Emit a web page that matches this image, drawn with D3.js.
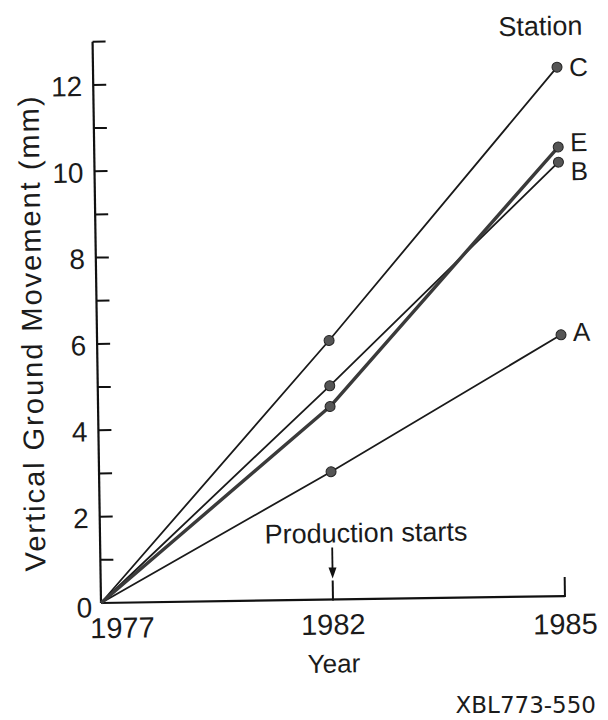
<!DOCTYPE html>
<html>
<head>
<meta charset="utf-8">
<script src="https://cdnjs.cloudflare.com/ajax/libs/d3/7.8.5/d3.min.js"></script>
<style>
  body { margin: 0; background: #fff; }
  text { font-family: "Liberation Sans", Arial, sans-serif; fill: #1b1b1b; }
</style>
</head>
<body>
<svg width="608" height="720"></svg>
<script>
// values
const years = ["1977", "1982", "1985"];
const stations = ["A", "B", "C", "E"];
const movementA = [0, 2.96, 6.05];
const movementB = [0, 4.95, 10.05];
const movementC = [0, 6.0, 12.25];
const movementE = [0, 4.47, 10.4];
const yTickLabels = [0, 2, 4, 6, 8, 10, 12];

const series = [
  {name: "A", values: movementA},
  {name: "B", values: movementB},
  {name: "C", values: movementC},
  {name: "E", values: movementE}
];

// label nudges around the last point of each station
const labelShift = {A: -3, B: 9, C: 0, E: -5};

const x0 = 101, y0 = 603;

const svg = d3.select("svg");

// the scan is turned a little, so the whole drawing is too
const g = svg.append("g")
  .attr("transform", `rotate(-0.86, ${x0}, ${y0})`);

const x = d3.scalePoint().domain(years).range([x0, 565]);
const y = d3.scaleLinear().domain([0, 13]).range([y0, y0 - 13 * 43.18]);

// y axis
g.append("line")
  .attr("x1", x0).attr("x2", x0)
  .attr("y1", y(0)).attr("y2", y(13))
  .attr("stroke", "#111").attr("stroke-width", 2.2);

g.selectAll(".ytick")
  .data(d3.range(1, 14))
  .join("line")
  .attr("class", "ytick")
  .attr("x1", x0).attr("x2", x0 + 13)
  .attr("y1", d => y(d)).attr("y2", d => y(d))
  .attr("stroke", "#111").attr("stroke-width", 2);

g.selectAll(".ylab")
  .data(yTickLabels)
  .join("text")
  .attr("class", "ylab")
  .attr("x", d => d === 0 ? x0 - 9 : x0 - 11)
  .attr("y", d => y(d) + (d === 0 ? 4 : 1))
  .attr("dy", "0.36em")
  .attr("text-anchor", "end")
  .style("font-size", "28px")
  .text(d => d);

// x axis
g.append("line")
  .attr("x1", x0).attr("x2", x(years[2]))
  .attr("y1", y0).attr("y2", y0)
  .attr("stroke", "#111").attr("stroke-width", 2.2);

g.selectAll(".xtick")
  .data(years.slice(1))
  .join("line")
  .attr("class", "xtick")
  .attr("x1", d => x(d)).attr("x2", d => x(d))
  .attr("y1", y0 + 1).attr("y2", y0 - 19)
  .attr("stroke", "#111").attr("stroke-width", 2);

g.selectAll(".xlab")
  .data(years)
  .join("text")
  .attr("class", "xlab")
  .attr("x", (d, i) => i === 0 ? x(d) + 21 : x(d))
  .attr("y", (d, i) => [638, 638, 641][i])
  .attr("text-anchor", "middle")
  .style("font-size", "29px")
  .text(d => d);

g.append("text")
  .attr("x", x(years[1]))
  .attr("y", 676)
  .attr("text-anchor", "middle")
  .style("font-size", "26px")
  .text("Year");

g.append("text")
  .attr("transform", "translate(46,333) rotate(-90)")
  .attr("text-anchor", "middle")
  .attr("textLength", 475)
  .attr("lengthAdjust", "spacing")
  .style("font-size", "29px")
  .text("Vertical Ground Movement (mm)");

// production marker
const xp = x(years[1]);
g.append("line")
  .attr("x1", xp).attr("x2", xp)
  .attr("y1", 551).attr("y2", 574)
  .attr("stroke", "#111").attr("stroke-width", 1.8);
g.append("path")
  .attr("d", `M${xp - 4},${571} L${xp + 4},${571} L${xp},${582} Z`)
  .attr("fill", "#111");
g.append("text")
  .attr("x", 367)
  .attr("y", 546)
  .attr("text-anchor", "middle")
  .style("font-size", "27px")
  .text("Production starts");

// station lines
const line = d3.line()
  .x((d, i) => x(years[i]))
  .y(d => y(d));

g.selectAll(".station")
  .data(series)
  .join("path")
  .attr("class", "station")
  .attr("d", d => line(d.values))
  .attr("fill", "none")
  .attr("stroke", d => d.name === "E" ? "#3a3a3a" : "#1a1a1a")
  .attr("stroke-width", d => d.name === "E" ? 3.4 : 1.8)
  .attr("stroke-linejoin", "round");

const pts = series.flatMap(s => s.values.slice(1).map((v, i) => ({v, i: i + 1})));
g.selectAll(".pt")
  .data(pts)
  .join("circle")
  .attr("class", "pt")
  .attr("cx", d => x(years[d.i]))
  .attr("cy", d => y(d.v))
  .attr("r", 5)
  .attr("fill", "#555")
  .attr("stroke", "#222")
  .attr("stroke-width", 1);

g.selectAll(".slab")
  .data(series)
  .join("text")
  .attr("class", "slab")
  .attr("x", x(years[2]) + 12)
  .attr("y", d => y(d.values[2]) + labelShift[d.name])
  .attr("dy", "0.36em")
  .style("font-size", "26px")
  .text(d => d.name);

g.append("text")
  .attr("x", 591)
  .attr("y", 42)
  .attr("text-anchor", "end")
  .style("font-size", "27px")
  .text("Station");

svg.append("text")
  .attr("x", 596)
  .attr("y", 713)
  .attr("text-anchor", "end")
  .style("font-family", "'DejaVu Sans', sans-serif")
  .style("font-size", "23px")
  .text("XBL773-550");
</script>
</body>
</html>
